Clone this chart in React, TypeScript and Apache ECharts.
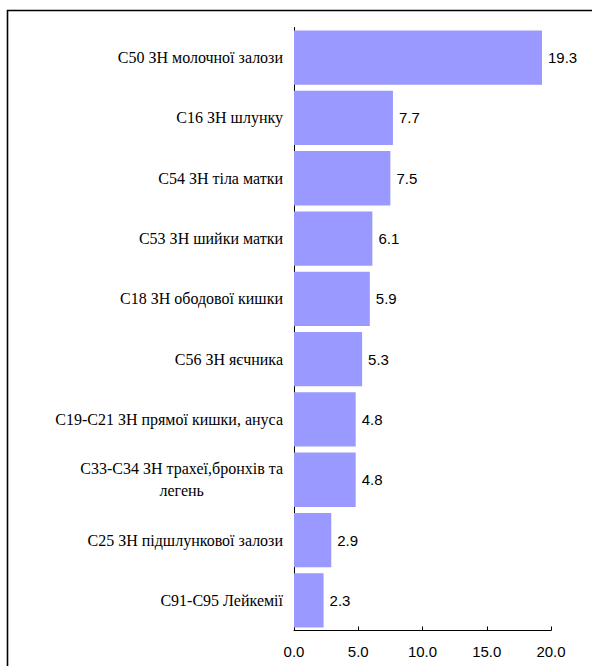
import React, { useEffect, useRef } from "react";
import * as echarts from "echarts";

const categories: string[] = [
  "C50 ЗН молочної залози",
  "C16 ЗН шлунку",
  "C54 ЗН тіла матки",
  "C53 ЗН шийки матки",
  "C18 ЗН ободової кишки",
  "C56 ЗН яєчника",
  "C19-C21 ЗН прямої кишки, ануса",
  "C33-C34 ЗН трахеї,бронхів та\nлегень",
  "C25 ЗН підшлункової залози",
  "C91-C95 Лейкемії",
];

const values: number[] = [19.3, 7.7, 7.5, 6.1, 5.9, 5.3, 4.8, 4.8, 2.9, 2.3];

const axisTicks = { min: 0, max: 20, interval: 5 };

const SERIF = "Liberation Serif";
const SANS = "Arial";

export default function App() {
  const ref = useRef<HTMLDivElement>(null);

  useEffect(() => {
    if (!ref.current) return;
    const chart = echarts.init(ref.current, null, { renderer: "svg" });
    chart.setOption({
      animation: false,
      backgroundColor: "#ffffff",
      grid: { left: 294, right: 41, top: 27.5, bottom: 35.5, containLabel: false },
      xAxis: {
        type: "value",
        min: axisTicks.min,
        max: axisTicks.max,
        interval: axisTicks.interval,
        splitLine: { show: false },
        axisLine: { show: true, lineStyle: { color: "#000000", width: 1 } },
        axisTick: { show: true, inside: true, length: 4, lineStyle: { color: "#000000" } },
        axisLabel: {
          margin: 13,
          color: "#000000",
          fontFamily: SANS,
          fontSize: 15,
          formatter: (v: number) => v.toFixed(1),
        },
      },
      yAxis: {
        type: "category",
        data: categories,
        inverse: true,
        axisLine: { show: true, lineStyle: { color: "#000000", width: 1 } },
        axisTick: { show: false },
        axisLabel: { show: false },
      },
      series: [
        {
          type: "bar",
          data: values,
          barCategoryGap: "10%",
          itemStyle: { color: "#9999FF" },
          label: {
            show: true,
            position: "right",
            distance: 6,
            color: "#000000",
            fontFamily: SANS,
            fontSize: 15,
            formatter: (p: any) => Number(p.value).toFixed(1),
          },
        },
      ],
    });

    // measures a line of the serif name text, to centre a wrapped second line under the first
    const canvas = document.createElement("canvas");
    const ctx = canvas.getContext("2d");
    const measure = (s: string): number => {
      if (!ctx) return s.length * 7;
      ctx.font = `16px "${SERIF}"`;
      return ctx.measureText(s).width;
    };

    const nameTexts: any[] = [];
    categories.forEach((name, i) => {
      const pt = chart.convertToPixel({ gridIndex: 0 }, [0, i]) as number[];
      const right = pt[0] - 11;
      const lines = name.split("\n");
      const baseStyle = {
        fill: "#000000",
        fontFamily: SERIF,
        fontSize: 16,
        verticalAlign: "middle",
      };
      if (lines.length === 1) {
        nameTexts.push({
          type: "text",
          x: right,
          y: pt[1],
          silent: true,
          style: { ...baseStyle, text: name, align: "right" },
        });
      } else {
        const w = measure(lines[0]);
        nameTexts.push({
          type: "text",
          x: right,
          y: pt[1] - 11,
          silent: true,
          style: { ...baseStyle, text: lines[0], align: "right" },
        });
        nameTexts.push({
          type: "text",
          x: right - w / 2,
          y: pt[1] + 11,
          silent: true,
          style: { ...baseStyle, text: lines[1], align: "center" },
        });
      }
    });

    chart.setOption({
      graphic: [
        {
          type: "rect",
          shape: { x: 7.5, y: 10.5, width: 800, height: 800 },
          style: { fill: "none", stroke: "#000000", lineWidth: 1.6 },
          silent: true,
        },
        ...nameTexts,
      ],
    });
    return () => chart.dispose();
  }, []);

  return (
    <div
      ref={ref}
      style={{ position: "fixed", left: 0, top: 0, width: 592, height: 666 }}
    />
  );
}
